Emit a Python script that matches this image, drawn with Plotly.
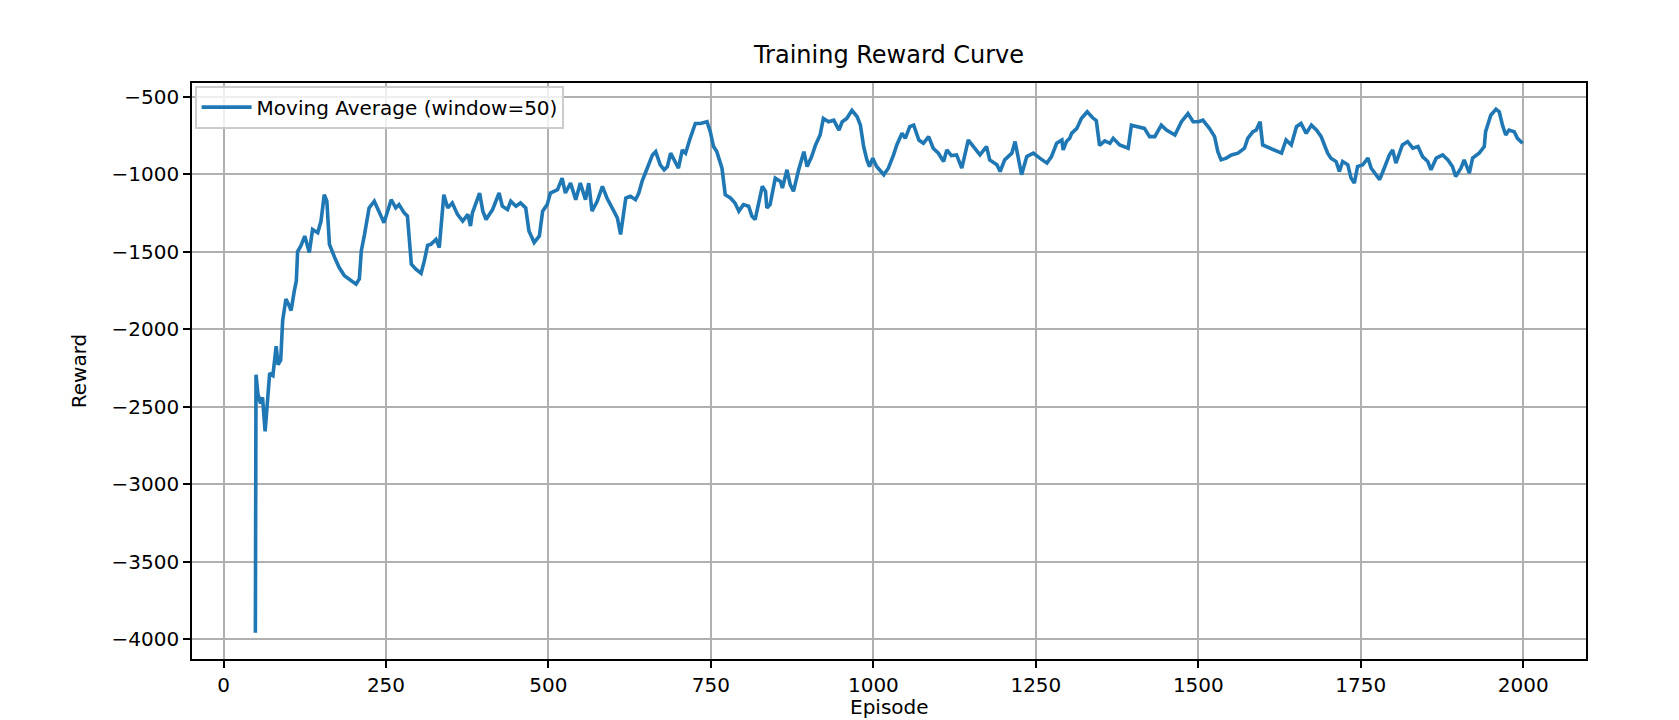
import plotly.graph_objects as go

# moving average of the training reward
episodes = [
    49, 50, 53, 57, 60, 64, 67, 71, 76, 81, 84, 88, 91, 96, 100, 104, 109, 112, 114, 119,
    125, 132, 137, 145, 150, 155, 159, 163, 171, 178, 186, 196, 204, 209, 212, 217, 224, 232, 240, 247,
    258, 265, 270, 278, 283, 286, 289, 296, 304, 309, 314, 319, 327, 332, 335, 339, 345, 352, 360, 368,
    376, 380, 383, 391, 394, 399, 404, 414, 424, 429, 437, 442, 450, 457, 465, 470, 478, 486, 491, 498,
    503, 514, 521, 526, 534, 542, 549, 557, 562, 567, 575, 583, 590, 598, 606, 611, 615, 619, 626, 634,
    639, 644, 652, 660, 665, 672, 678, 683, 688, 693, 700, 706, 711, 718, 726, 734, 744, 749, 754, 759,
    767, 772, 780, 787, 793, 800, 808, 813, 818, 829, 834, 836, 841, 849, 857, 860, 867, 872, 877, 885,
    893, 898, 905, 911, 918, 923, 931, 939, 947, 952, 959, 967, 975, 980, 985, 990, 994, 999, 1005, 1016,
    1023, 1031, 1036, 1044, 1049, 1056, 1062, 1070, 1077, 1085, 1092, 1100, 1108, 1113, 1120, 1128, 1136, 1146, 1156, 1164,
    1174, 1179, 1190, 1195, 1202, 1213, 1218, 1223, 1228, 1236, 1246, 1256, 1267, 1274, 1282, 1290, 1292, 1297, 1302, 1305,
    1313, 1320, 1329, 1337, 1343, 1348, 1356, 1364, 1369, 1379, 1392, 1397, 1407, 1417, 1425, 1433, 1443, 1451, 1464, 1474,
    1484, 1492, 1500, 1507, 1517, 1525, 1530, 1535, 1543, 1551, 1561, 1571, 1576, 1584, 1589, 1595, 1599, 1610, 1620, 1628,
    1635, 1643, 1651, 1658, 1666, 1674, 1682, 1689, 1694, 1699, 1704, 1712, 1717, 1722, 1730, 1735, 1740, 1745, 1753, 1761,
    1766, 1773, 1779, 1786, 1794, 1799, 1804, 1814, 1822, 1830, 1838, 1845, 1853, 1858, 1866, 1876, 1884, 1891, 1896, 1904,
    1909, 1917, 1922, 1932, 1940, 1942, 1950, 1958, 1963, 1968, 1973, 1978, 1986, 1991, 1999,
]
rewards = [
    -3960, -2295, -2420, -2480, -2440, -2660, -2500, -2285, -2300, -2110, -2230, -2200, -1944, -1806, -1840, -1880, -1752, -1690, -1500, -1464,
    -1400, -1506, -1357, -1378, -1303, -1133, -1175, -1453, -1538, -1603, -1656, -1688, -1710, -1677, -1496, -1389, -1218, -1175, -1250, -1314,
    -1165, -1218, -1197, -1250, -1271, -1431, -1581, -1613, -1640, -1560, -1460, -1453, -1421, -1474, -1293, -1133, -1218, -1186, -1260, -1303,
    -1260, -1335, -1250, -1165, -1122, -1239, -1293, -1229, -1122, -1207, -1229, -1175, -1207, -1186, -1218, -1367, -1442, -1399, -1239, -1197,
    -1122, -1100, -1026, -1122, -1058, -1165, -1058, -1165, -1058, -1239, -1175, -1079, -1154, -1218, -1282, -1389, -1260, -1154, -1143, -1165,
    -1122, -1047, -962, -876, -855, -940, -972, -951, -865, -908, -962, -844, -865, -769, -673, -673, -662, -726, -822, -855,
    -962, -1133, -1154, -1186, -1239, -1197, -1207, -1271, -1293, -1079, -1111, -1218, -1197, -1026, -1047, -1090, -972, -1068, -1111, -972,
    -855, -951, -887, -812, -748, -641, -662, -652, -716, -662, -641, -588, -630, -684, -822, -908, -951, -897, -951, -1004,
    -962, -876, -812, -737, -769, -694, -684, -780, -801, -758, -833, -865, -919, -844, -880, -876, -962, -780, -833, -876,
    -822, -908, -940, -983, -908, -865, -790, -908, -1004, -887, -865, -897, -929, -887, -801, -780, -844, -790, -769, -737,
    -705, -641, -598, -635, -655, -815, -785, -801, -769, -812, -833, -684, -694, -705, -758, -758, -684, -716, -748, -662,
    -609, -662, -662, -652, -705, -758, -855, -908, -897, -876, -865, -833, -769, -726, -716, -662, -812, -833, -855, -865,
    -780, -812, -694, -673, -737, -684, -716, -758, -812, -865, -897, -919, -983, -919, -940, -1026, -1058, -951, -940, -897,
    -962, -1004, -1036, -962, -876, -844, -929, -812, -790, -833, -822, -887, -919, -972, -897, -876, -908, -951, -1015, -962,
    -908, -994, -897, -865, -822, -726, -620, -581, -598, -684, -748, -716, -726, -769, -801,
]

x_ticks = [0, 250, 500, 750, 1000, 1250, 1500, 1750, 2000]
y_ticks = [-4000, -3500, -3000, -2500, -2000, -1500, -1000, -500]

font = "DejaVu Sans"
ink = "black"
blue = "#1f77b4"

# plot box in pixels (left, right, top, bottom)
L, R, T, B = 184, 1578, 75, 651
W, H = 1679, 720


def pad_range(vals, frac=0.05):
    lo, hi = min(vals), max(vals)
    d = (hi - lo) * frac
    return [lo - d, hi + d]


fig = go.Figure()
fig.add_trace(
    go.Scatter(
        x=episodes,
        y=rewards,
        mode="lines",
        name="Moving Average (window=50)",
        line=dict(color=blue, width=3.6),
    )
)

axis_common = dict(
    showline=True,
    linecolor="black",
    linewidth=1.6,
    mirror=True,
    showgrid=True,
    gridcolor="#b0b0b0",
    gridwidth=1.6,
    ticks="outside",
    ticklen=7,
    tickwidth=1.6,
    tickcolor="black",
    zeroline=False,
    automargin=False,
    tickfont=dict(family=font, size=20, color=ink),
)

# x axis label placed by hand so it sits where the reference has it
fig.add_annotation(
    text="Episode",
    xref="paper",
    yref="paper",
    x=0.5,
    y=-(699 - B) / (B - T),
    xanchor="center",
    yanchor="middle",
    showarrow=False,
    font=dict(family=font, size=20, color=ink),
)

fig.update_layout(
    width=W,
    height=H,
    margin=dict(l=L, r=W - R, t=T, b=H - B),
    paper_bgcolor="white",
    plot_bgcolor="white",
    title=dict(
        text="Training Reward Curve",
        x=(L + R) / 2 / W,
        xanchor="center",
        y=1 - 47 / H,
        yanchor="middle",
        font=dict(family=font, size=24, color=ink),
    ),
    xaxis=dict(
        axis_common,
        range=pad_range(episodes),
        tickvals=x_ticks,
        ticktext=[str(t) for t in x_ticks],
    ),
    yaxis=dict(
        axis_common,
        range=pad_range(rewards),
        tickvals=y_ticks,
        ticktext=["\u2212" + str(-t) for t in y_ticks],
        title=dict(text="Reward", standoff=20, font=dict(family=font, size=20, color=ink)),
    ),
    showlegend=True,
    legend=dict(
        x=3 / (R - L),
        y=1 - 3 / (B - T),
        xanchor="left",
        yanchor="top",
        bgcolor="rgba(255,255,255,0.8)",
        bordercolor="#cccccc",
        borderwidth=1.6,
        itemwidth=50,
        font=dict(family=font, size=20, color=ink),
    ),
)

fig.write_html("out.html")
